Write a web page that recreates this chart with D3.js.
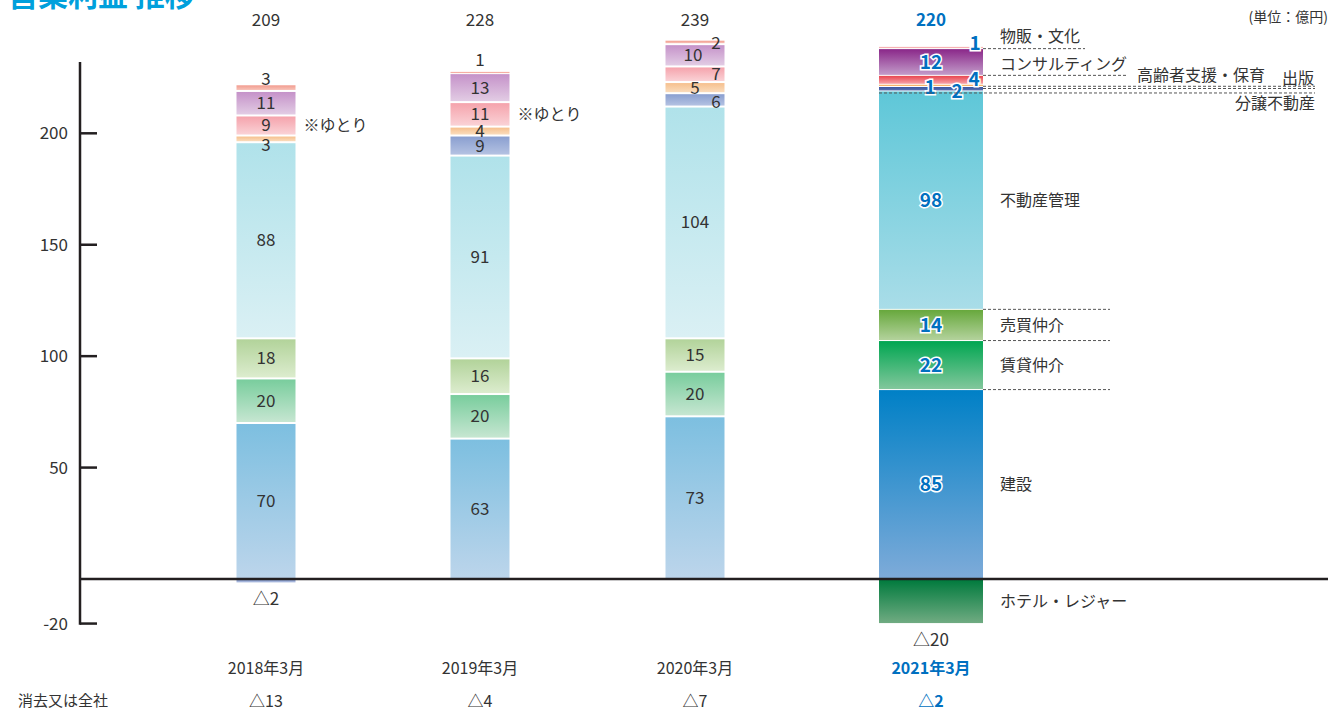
<!DOCTYPE html>
<html>
<head>
<meta charset="utf-8">
<script src="https://cdn.jsdelivr.net/npm/d3@7"></script>
<style>
  body { margin: 0; background: #fff; }
  text { font-family: "Noto Sans CJK JP", "Noto Sans", sans-serif; }
</style>
</head>
<body>
<svg id="vis" width="1331" height="711"></svg>
<script>
// data (億円)
var years = ["2018年3月", "2019年3月", "2020年3月", "2021年3月"];
var segments = ["建設", "賃貸仲介", "売買仲介", "不動産管理", "分譲不動産", "出版",
                "高齢者支援・保育", "コンサルティング", "物販・文化", "ホテル・レジャー"];
var kensetsu   = [70, 63, 73, 85];
var chintai    = [20, 20, 20, 22];
var baibai     = [18, 16, 15, 14];
var kanri      = [88, 91, 104, 98];
var bunjo      = [-2, 9, 6, 2];
var shuppan    = [3, 4, 5, 1];
var koureisha  = [9, 11, 7, 4];
var consulting = [11, 13, 10, 12];
var buppan     = [3, 1, 2, 1];
var hotel      = [0, 0, 0, -20];
var totals      = [209, 228, 239, 220];
var elimination = [-13, -4, -7, -2];
var yTicks = [200, 150, 100, 50, -20];

var svg = d3.select("#vis");
var blue = "#0070c0";

// colours: [pastel top, pastel bottom, vivid top, vivid bottom]
var colors = {
  "建設":           ["#7dbfe0", "#bcd5eb", "#0080c6", "#7eabd9"],
  "賃貸仲介":       ["#79cd9d", "#c6e6d1", "#00a651", "#82c79c"],
  "売買仲介":       ["#b2d39a", "#dcecce", "#67a83c", "#b3d29c"],
  "不動産管理":     ["#b0e2ea", "#daf0f4", "#5ec7d8", "#a9dde8"],
  "分譲不動産":     ["#8a9fd0", "#b4c2e2", "#3a55a0", "#5a70b0"],
  "出版":           ["#f6c08e", "#fadcbc", "#f4a04a", "#f8c080"],
  "高齢者支援・保育": ["#f5a3ac", "#fad2d6", "#e9454f", "#f4a2a8"],
  "コンサルティング": ["#c592c9", "#e2cce4", "#8a2789", "#c29bc9"],
  "物販・文化":     ["#f29c8f", "#f7c2b8", "#f5a3a3", "#f8c4c4"],
  "ホテル・レジャー": ["#9cc9a8", "#c8e2cf", "#007a3d", "#70ab82"]
};

var seriesValues = [kensetsu, chintai, baibai, kanri, bunjo, shuppan, koureisha, consulting, buppan, hotel];
var table = years.map(function(y, i) {
  var row = { year: y, idx: i };
  segments.forEach(function(s, k) { row[s] = seriesValues[k][i]; });
  return row;
});

var stack = d3.stack().keys(segments).offset(d3.stackOffsetDiverging);
var layers = stack(table);

var y = d3.scaleLinear().domain([0, 232]).range([579, 62]);
var xc = d3.scaleOrdinal().domain(years).range([266, 480, 695, 931]);
function bw(i) { return i === 3 ? 104 : 59; }

// gradients
var defs = svg.append("defs");
segments.forEach(function(s, k) {
  ["p", "v"].forEach(function(m, j) {
    var g = defs.append("linearGradient")
        .attr("id", "g" + k + m)
        .attr("x1", 0).attr("y1", 0).attr("x2", 0).attr("y2", 1);
    g.append("stop").attr("offset", "0%").attr("stop-color", colors[s][j * 2]);
    g.append("stop").attr("offset", "100%").attr("stop-color", colors[s][j * 2 + 1]);
  });
});

// title (cropped at the top edge)
svg.append("text").attr("x", 8).attr("y", 6)
    .attr("font-size", 30).attr("font-weight", 700).attr("fill", "#00a0dc")
    .text("営業利益 推移");

svg.append("text").attr("x", 1328).attr("y", 22).attr("text-anchor", "end")
    .attr("font-size", 14).attr("fill", "#333").text("(単位：億円)");

// bars
layers.forEach(function(layer, k) {
  svg.append("g").selectAll("rect")
    .data(layer.filter(function(d) { return d[1] !== d[0]; }))
    .enter().append("rect")
      .attr("x", function(d) { return xc(d.data.year) - bw(d.data.idx) / 2; })
      .attr("width", function(d) { return bw(d.data.idx); })
      .attr("y", function(d) { return y(d[1]) + (d.data.idx === 3 ? 0.5 : 1); })
      .attr("height", function(d) {
        var h = y(d[0]) - y(d[1]) - (d.data.idx === 3 ? 1 : 2);
        return Math.max(h, 1.2);
      })
      .attr("fill", function(d) { return "url(#g" + k + (d.data.idx === 3 ? "v" : "p") + ")"; });
});

// axis
svg.append("line").attr("x1", 80).attr("x2", 80).attr("y1", 62).attr("y2", y(-20) + 1.2)
    .attr("stroke", "#231f20").attr("stroke-width", 2.5);
svg.append("g").selectAll("line").data(yTicks).enter().append("line")
    .attr("x1", 80).attr("x2", 97)
    .attr("y1", function(d) { return y(d); }).attr("y2", function(d) { return y(d); })
    .attr("stroke", "#231f20").attr("stroke-width", 2.5);
svg.append("g").selectAll("text").data(yTicks).enter().append("text")
    .attr("x", 68).attr("y", function(d) { return y(d); }).attr("dy", "0.35em")
    .attr("text-anchor", "end").attr("font-size", 17).attr("fill", "#333")
    .text(function(d) { return d; });
svg.append("line").attr("x1", 80).attr("x2", 1328).attr("y1", y(0)).attr("y2", y(0))
    .attr("stroke", "#231f20").attr("stroke-width", 2.5);

// segment labels, nudges for the thin ones
var nudge = {
  "0|出版": [0, 6], "0|物販・文化": [0, -9],
  "1|物販・文化": [0, -12],
  "2|分譲不動産": [21, 2], "2|高齢者支援・保育": [21, 0], "2|コンサルティング": [-2, 0], "2|物販・文化": [21, 1],
  "3|物販・文化": [44, -4], "3|高齢者支援・保育": [43, 0], "3|出版": [-1, 2], "3|分譲不動産": [26, 3]
};
function fmt(v) { return v < 0 ? "△" + Math.abs(v) : String(v); }

var labels = [];
layers.forEach(function(layer) {
  layer.forEach(function(d) {
    var v = d.data[layer.key];
    if (v === 0) return;
    var n = nudge[d.data.idx + "|" + layer.key] || [0, 0];
    var cy = v < 0 ? y(d[0]) + 16 : (y(d[0]) + y(d[1])) / 2;
    labels.push({ v: v, i: d.data.idx, x: xc(d.data.year) + n[0], y: cy + n[1] });
  });
});

svg.append("g").selectAll("text").data(labels).enter().append("text")
    .attr("x", function(d) { return d.x; }).attr("y", function(d) { return d.y; })
    .attr("dy", "0.35em").attr("text-anchor", "middle")
    .attr("font-size", function(d) { return d.i === 3 && d.v > 0 ? 19 : 17; })
    .attr("font-weight", function(d) { return d.i === 3 && d.v > 0 ? 700 : 400; })
    .attr("fill", function(d) { return d.i === 3 && d.v > 0 ? blue : "#333"; })
    .attr("stroke", function(d) { return d.i === 3 && d.v > 0 ? "#fff" : "none"; })
    .attr("stroke-width", 3).attr("paint-order", "stroke")
    .text(function(d) { return fmt(d.v); });

// ※ゆとり notes next to the pink segment
var kLayer = layers[segments.indexOf("高齢者支援・保育")];
svg.append("g").selectAll("text").data(kLayer.filter(function(d) { return d.data.idx < 2; }))
  .enter().append("text")
    .attr("x", function(d) { return xc(d.data.year) + bw(d.data.idx) / 2 + 8; })
    .attr("y", function(d) { return (y(d[0]) + y(d[1])) / 2; }).attr("dy", "0.35em")
    .attr("font-size", 16).attr("fill", "#333").text("※ゆとり");

// totals, categories, eliminations
svg.append("g").selectAll("text").data(totals).enter().append("text")
    .attr("x", function(d, i) { return xc(years[i]); }).attr("y", 20).attr("dy", "0.35em")
    .attr("text-anchor", "middle").attr("font-size", 17)
    .attr("font-weight", function(d, i) { return i === 3 ? 700 : 400; })
    .attr("fill", function(d, i) { return i === 3 ? blue : "#333"; })
    .text(function(d) { return d; });
svg.append("g").selectAll("text").data(years).enter().append("text")
    .attr("x", function(d) { return xc(d); }).attr("y", 668).attr("dy", "0.35em")
    .attr("text-anchor", "middle").attr("font-size", 16)
    .attr("font-weight", function(d, i) { return i === 3 ? 700 : 400; })
    .attr("fill", function(d, i) { return i === 3 ? blue : "#333"; })
    .text(function(d) { return d; });
svg.append("text").attr("x", 18).attr("y", 701).attr("dy", "0.35em")
    .attr("font-size", 15).attr("fill", "#333").text("消去又は全社");
svg.append("g").selectAll("text").data(elimination).enter().append("text")
    .attr("x", function(d, i) { return xc(years[i]); }).attr("y", 701).attr("dy", "0.35em")
    .attr("text-anchor", "middle").attr("font-size", 16)
    .attr("font-weight", function(d, i) { return i === 3 ? 700 : 400; })
    .attr("fill", function(d, i) { return i === 3 ? blue : "#333"; })
    .text(function(d) { return fmt(d); });

// 2021 leader lines and segment names
function edge(name, side) {
  var d = layers[segments.indexOf(name)][3];
  return y(side === "top" ? d[1] : d[0]);
}
var right = xc(years[3]) + bw(3) / 2, left = xc(years[3]) - bw(3) / 2;
var leaders = [
  ["物販・文化", "bottom", right, 1085, 0],
  ["コンサルティング", "bottom", right, 1128, 0],
  ["出版", "top", right, 1315, 2],
  ["分譲不動産", "top", right, 1315, 2],
  ["不動産管理", "top", left, 1315, 2],
  ["売買仲介", "top", right, 1110, 0],
  ["賃貸仲介", "top", right, 1110, 0],
  ["建設", "top", right, 1110, 0]
];
svg.append("g").selectAll("line").data(leaders).enter().append("line")
    .attr("x1", function(d) { return d[2]; }).attr("x2", function(d) { return d[3]; })
    .attr("y1", function(d) { return edge(d[0], d[1]) + d[4]; })
    .attr("y2", function(d) { return edge(d[0], d[1]) + d[4]; })
    .attr("stroke", "#555").attr("stroke-width", 1).attr("stroke-dasharray", "3,2");

var names = [
  ["物販・文化", 1000, edge("物販・文化", "bottom") - 12, "start"],
  ["コンサルティング", 1000, edge("コンサルティング", "bottom") - 11, "start"],
  ["高齢者支援・保育", 1137, edge("出版", "top") - 9, "start"],
  ["出版", 1282, edge("分譲不動産", "top") - 8, "start"],
  ["分譲不動産", 1315, edge("不動産管理", "top") + 12, "end"]
];
["不動産管理", "売買仲介", "賃貸仲介", "建設", "ホテル・レジャー"].forEach(function(s) {
  names.push([s, 1000, (edge(s, "top") + edge(s, "bottom")) / 2, "start"]);
});
svg.append("g").selectAll("text").data(names).enter().append("text")
    .attr("x", function(d) { return d[1]; }).attr("y", function(d) { return d[2]; })
    .attr("dy", "0.35em").attr("text-anchor", function(d) { return d[3]; })
    .attr("font-size", 16).attr("fill", "#333")
    .text(function(d) { return d[0]; });
</script>
</body>
</html>
